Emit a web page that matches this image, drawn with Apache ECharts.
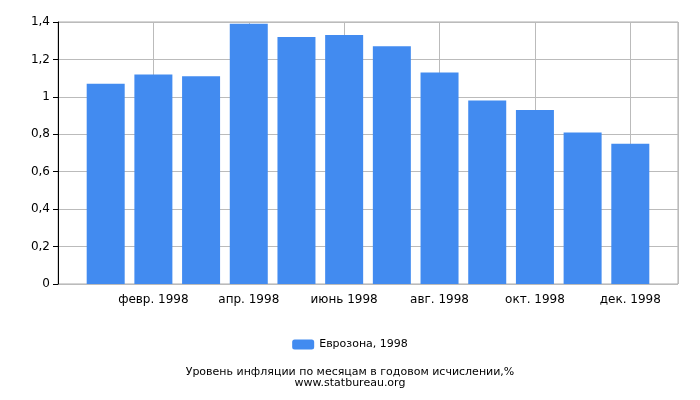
<!DOCTYPE html>
<html>
<head>
<meta charset="utf-8">
<script src="https://cdn.jsdelivr.net/npm/echarts@6/dist/echarts.min.js"></script>
</head>
<body style="margin:0">
<div id="main" style="width:700px;height:400px;"></div>
<script>
var months = ['янв. 1998','февр. 1998','март 1998','апр. 1998','май 1998','июнь 1998','июль 1998','авг. 1998','сент. 1998','окт. 1998','нояб. 1998','дек. 1998'];
var values = [1.07, 1.12, 1.11, 1.39, 1.32, 1.33, 1.27, 1.13, 0.98, 0.93, 0.81, 0.75];
var seriesName = 'Еврозона, 1998';

var chart = echarts.init(document.getElementById('main'));
var font = 'DejaVu Sans';
chart.setOption({
    textStyle: {fontFamily: font},
    title: {
        text: 'Уровень инфляции по месяцам в годовом исчислении,%',
        subtext: 'www.statbureau.org',
        left: 'center', top: 362, itemGap: 0,
        textStyle: {fontSize: 11, fontWeight: 'normal', color: '#000', fontFamily: font},
        subtextStyle: {fontSize: 11, color: '#000', fontFamily: font}
    },
    legend: {
        data: [seriesName], top: 334, left: 'center',
        itemWidth: 22, itemHeight: 10,
        textStyle: {fontSize: 11, color: '#000', fontFamily: font}
    },
    grid: {left: 58, right: 22, top: 22, bottom: 116, show: true, borderColor: '#aaa', borderWidth: 1},
    xAxis: {
        type: 'value', min: 0, max: 13, interval: 2,
        axisLine: {show: false}, axisTick: {show: false},
        axisLabel: {fontSize: 12, color: '#000', margin: 10, formatter: function (v) {
            return (v >= 1 && v <= 12) ? months[v - 1] : '';
        }},
        splitLine: {lineStyle: {color: '#bbb'}}
    },
    yAxis: {
        type: 'value', min: 0, max: 1.4, interval: 0.2,
        axisLine: {show: true, lineStyle: {color: '#000'}},
        axisTick: {show: true, length: 5, lineStyle: {color: '#000'}},
        axisLabel: {fontSize: 12, color: '#000', formatter: function (v) {
            return String(Math.round(v * 10) / 10).replace('.', ',');
        }},
        splitLine: {lineStyle: {color: '#bbb'}}
    },
    series: [{
        name: seriesName, type: 'bar', barWidth: 38,
        itemStyle: {color: '#428bf0'},
        data: values.map(function (v, i) { return [i + 1, v]; })
    }]
});
</script>
</body>
</html>
